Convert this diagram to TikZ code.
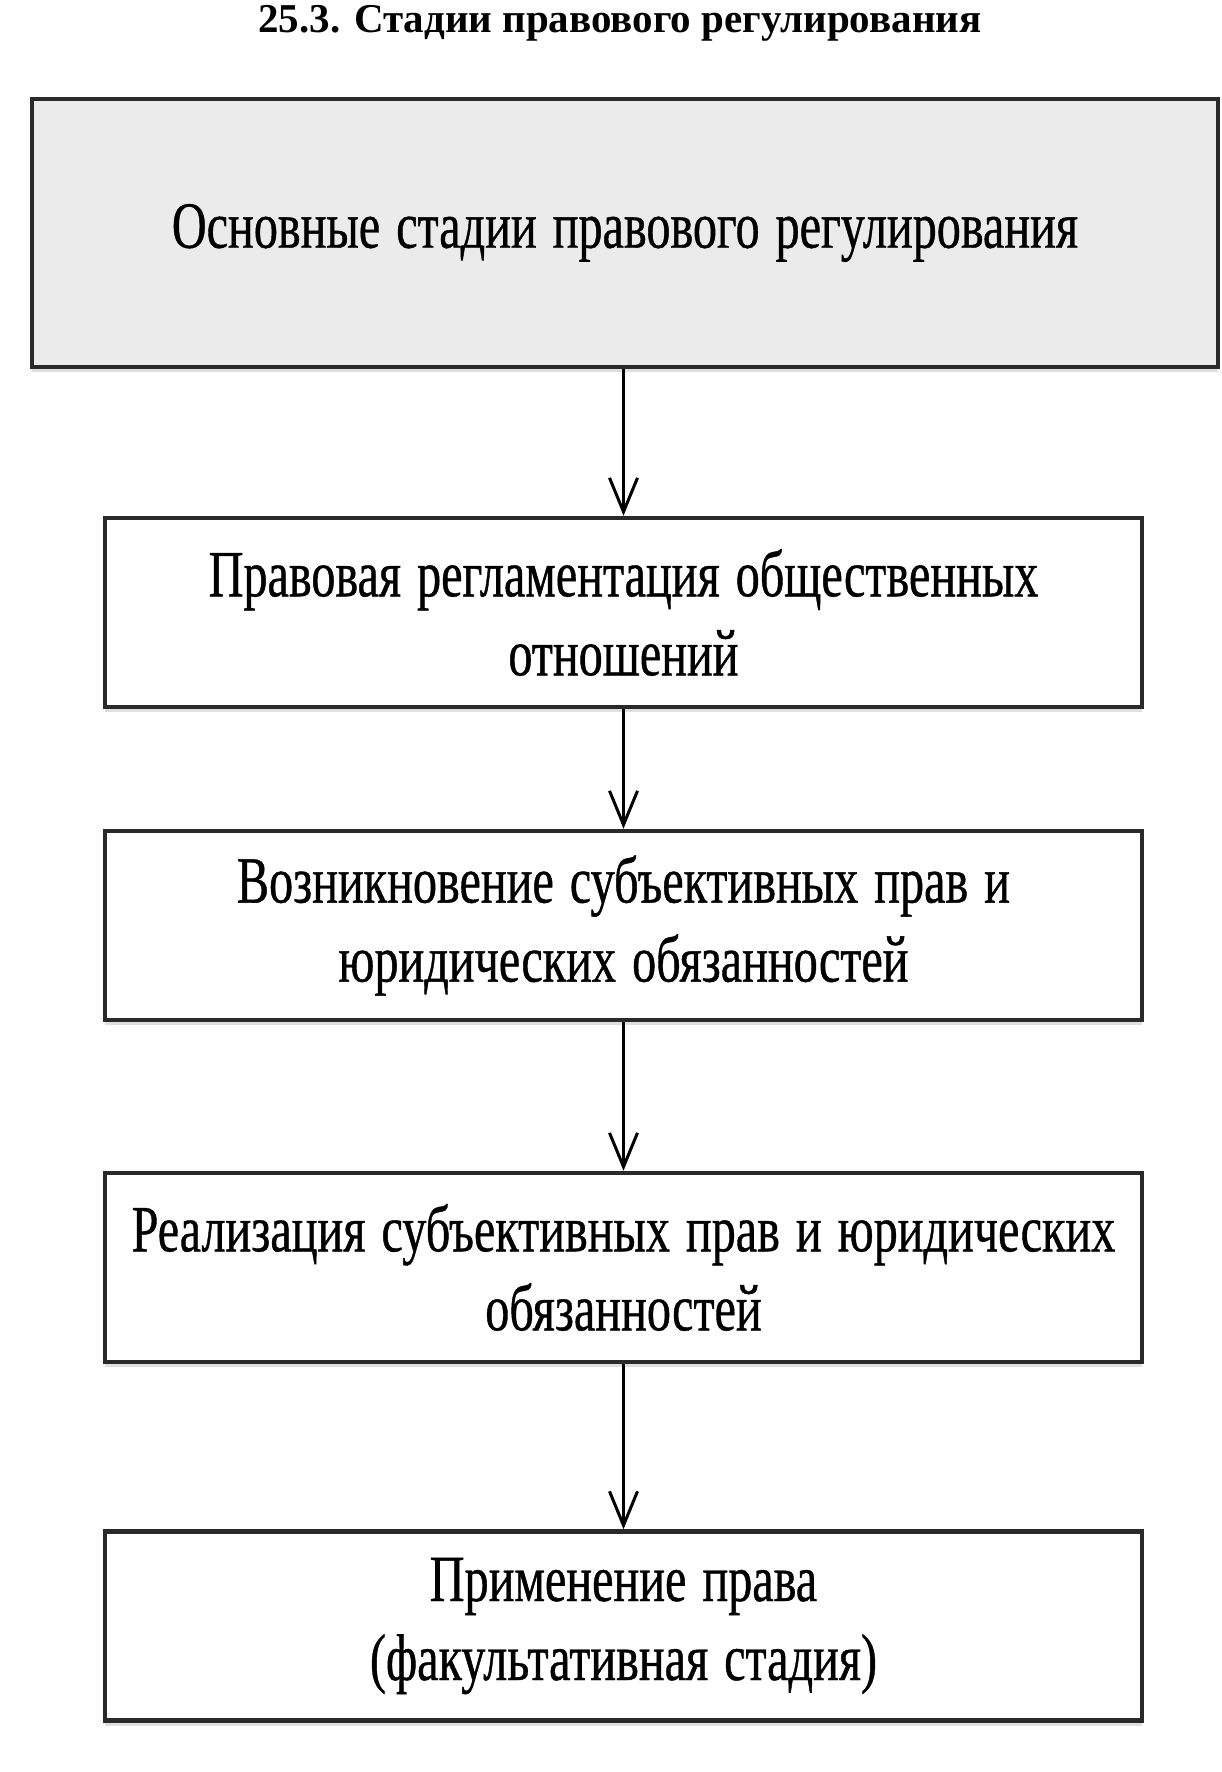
\documentclass[tikz,border=0pt]{standalone}
\usepackage{fontspec}
\setmainfont{Liberation Serif}
\newfontfamily\boxfont{Liberation Serif}[FakeStretch=0.73, FakeBold=0.6]
\newcommand\stagefont{\boxfont\fontsize{66}{79}\selectfont\spaceskip=16pt\relax}
\usetikzlibrary{arrows.meta,shadows}
\definecolor{boxgray}{HTML}{EBEBEB}
\definecolor{edgecol}{HTML}{2A2A2A}
\tikzset{
  stagebox/.style={draw=edgecol, line width=4.5pt, fill=white, minimum width=1037pt, minimum height=189pt,
    align=center, inner sep=0pt, font=\stagefont,
    drop shadow={shadow xshift=0pt, shadow yshift=-5pt, opacity=0.25}},
  headbox/.style={stagebox, fill=boxgray, minimum width=1186pt, minimum height=268pt},
  arr/.style={line width=3pt, -{Straight Barb[length=34pt,width=28pt,line width=3pt]}}
}
\begin{document}
\begin{tikzpicture}[x=1pt,y=-1pt]
\useasboundingbox (0,0) rectangle (1222,1772);
\fill[white] (0,0) rectangle (1222,1772);
\node[font=\bfseries\fontsize{41}{44}\selectfont, anchor=base] (title) at (620,32) {25.3. Стадии правового регулирования};
\node[headbox] (top) at (625,233) {Основные стадии правового регулирования};
\node[stagebox] (b2) at (623.5,612.5) {Правовая регламентация общественных\\отношений};
\node[stagebox] (b3) at (623.5,925.5) {Возникновение субъективных прав и\\юридических обязанностей};
\node[stagebox] (b4) at (623.5,1267.5) {Реализация субъективных прав и юридических\\обязанностей};
\node[stagebox] (b5) at (623.5,1626) {Применение права\\(факультативная стадия)};
\draw[arr] (top.south -| b2.north) -- (b2.north);
\draw[arr] (b2) -- (b3);
\draw[arr] (b3) -- (b4);
\draw[arr] (b4) -- (b5);
\end{tikzpicture}
\end{document}
